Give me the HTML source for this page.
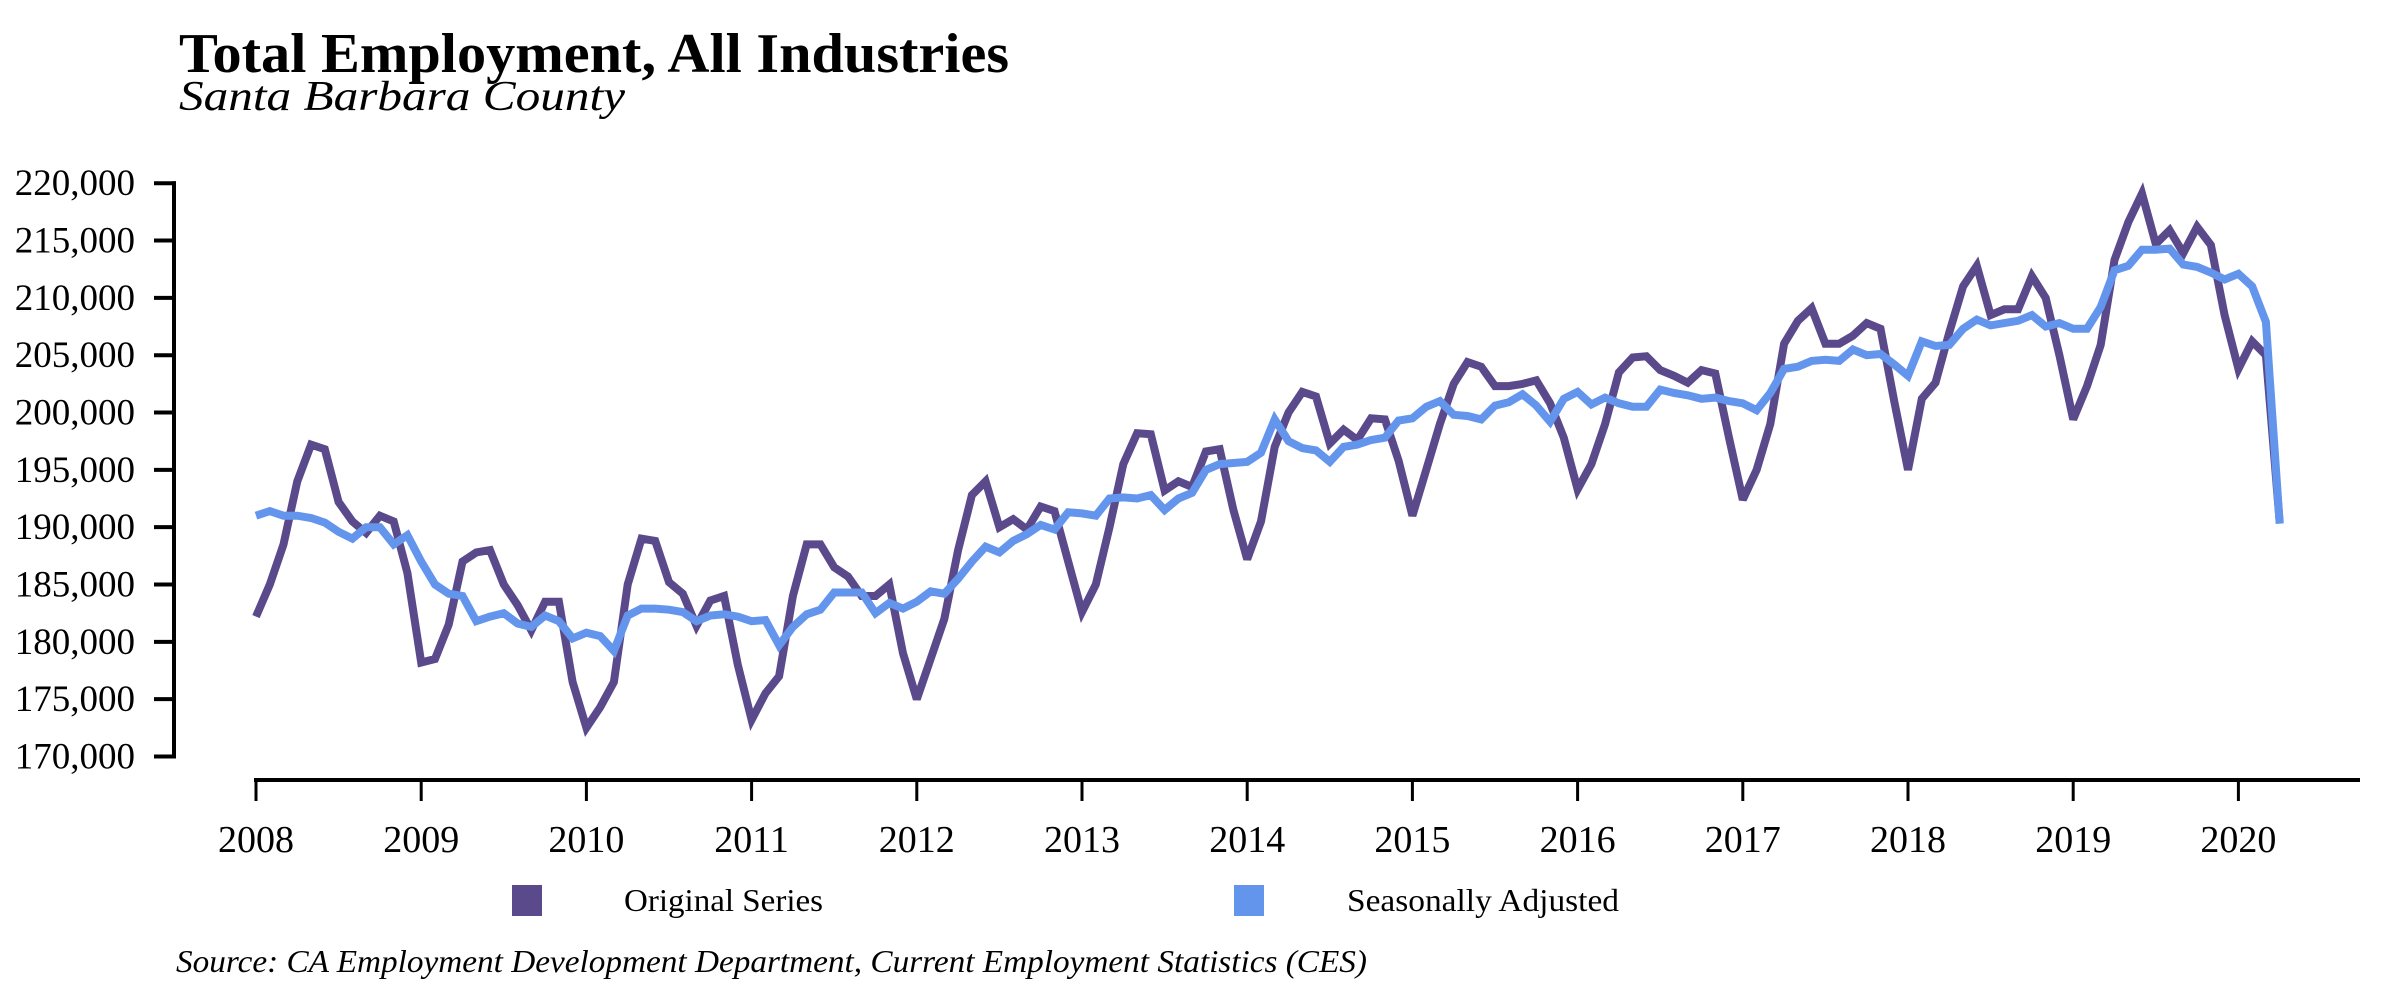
<!DOCTYPE html>
<html><head><meta charset="utf-8"><style>
html,body{margin:0;padding:0;background:#fff;}
svg{display:block;font-family:"Liberation Serif",serif;}
</style></head><body>
<svg id="chart" width="2400" height="1000" viewBox="0 0 2400 1000" xmlns="http://www.w3.org/2000/svg">
<text x="179" y="72" font-size="56" font-weight="bold" textLength="830" lengthAdjust="spacingAndGlyphs">Total Employment, All Industries</text>
<text x="179" y="110" font-size="42" font-style="italic" textLength="446" lengthAdjust="spacingAndGlyphs">Santa Barbara County</text>
<g id="axes"></g>
<g id="series"></g>
<g>
<rect x="512" y="885" width="30" height="31" fill="#5b4a8b"/>
<text x="624" y="911" font-size="32" textLength="199" lengthAdjust="spacingAndGlyphs">Original Series</text>
<rect x="1234" y="885" width="30" height="31" fill="#6495ed"/>
<text x="1347" y="911" font-size="32" textLength="272" lengthAdjust="spacingAndGlyphs">Seasonally Adjusted</text>
</g>
<text x="176" y="972" font-size="32" font-style="italic" textLength="1191" lengthAdjust="spacingAndGlyphs">Source: CA Employment Development Department, Current Employment Statistics (CES)</text>
</svg>
<script>
const yTicks = [170000,175000,180000,185000,190000,195000,200000,205000,210000,215000,220000];
const xYears = [2008,2009,2010,2011,2012,2013,2014,2015,2016,2017,2018,2019,2020];
const original = [
182.2,185,188.5,194,197.2,196.8,192.2,190.5,189.5,191,190.5,186,
178.2,178.5,181.5,187,187.8,188,185,183.2,181,183.5,183.5,176.5,
172.5,174.3,176.5,185,189,188.8,185.2,184.2,181.4,183.6,184,178,
173.2,175.5,177,184,188.5,188.5,186.5,185.7,184,184,185,179,
175,178.5,182,188,192.8,194,190,190.7,189.8,191.8,191.4,187,
182.6,185,190,195.5,198.2,198.1,193.2,194,193.5,196.6,196.8,191.5,
187.2,190.5,197,200,201.8,201.4,197.3,198.5,197.6,199.5,199.4,195.8,
191,195,199,202.5,204.4,204,202.3,202.3,202.5,202.8,200.8,197.8,
193.3,195.5,199,203.5,204.8,204.9,203.7,203.2,202.6,203.7,203.4,197.8,
192.4,195,199,206,208,209.1,206,206,206.7,207.8,207.3,201,
195,201.2,202.6,207,211,212.8,208.5,209,209,211.9,210,205,
199.4,202.3,205.9,213.3,216.6,219.1,214.7,215.9,213.9,216.2,214.6,208.5,
203.8,206.2,205,190.4];
const seasonal = [
191,191.4,191,191,190.8,190.4,189.6,189,190,190,188.5,189.3,
187,185,184.2,184,181.8,182.2,182.5,181.6,181.3,182.3,181.8,180.3,
180.8,180.5,179.2,182.3,182.9,182.9,182.8,182.6,181.8,182.3,182.4,182.2,
181.8,181.9,179.7,181.3,182.4,182.8,184.3,184.3,184.3,182.5,183.4,182.9,
183.5,184.4,184.2,185.5,187,188.3,187.8,188.8,189.4,190.2,189.8,191.3,
191.2,191,192.5,192.6,192.5,192.8,191.5,192.5,193,195,195.5,195.6,
195.7,196.5,199.4,197.5,196.9,196.7,195.7,197,197.2,197.6,197.8,199.3,
199.5,200.5,201,199.8,199.7,199.4,200.6,200.9,201.6,200.6,199.2,201.2,
201.8,200.7,201.3,200.8,200.5,200.5,202,201.7,201.5,201.2,201.3,201,
200.8,200.2,201.7,203.8,204,204.5,204.6,204.5,205.5,205,205.1,204.2,
203.2,206.2,205.8,205.9,207.3,208.1,207.6,207.8,208,208.5,207.5,207.8,
207.3,207.3,209.2,212.4,212.8,214.2,214.2,214.3,212.9,212.7,212.2,211.6,
212.1,211,207.9,190.3];

const NS="http://www.w3.org/2000/svg";
const X0=256, YEARW=165.2, YTOP=183.2, YBOT=756.5;
function xScale(i){return X0+i*YEARW/12;}
function xYear(y){return X0+(y-2008)*YEARW;}
function yScale(v){return YBOT-(v-170000)/50000*(YBOT-YTOP);}
function mk(tag,attrs,parent){const e=document.createElementNS(NS,tag);for(const k in attrs)e.setAttribute(k,attrs[k]);parent.appendChild(e);return e;}
const axes=document.getElementById('axes');
let yl=mk('line',{x1:174,y1:YTOP-2,x2:174,y2:YBOT+2,stroke:'#000','stroke-width':4},axes);


yTicks.forEach(v=>{
  const y=yScale(v);
  const t=mk('line',{x1:154,y1:y,x2:176,y2:y,stroke:'#000','stroke-width':4},axes);
  
  
  const l=mk('text',{x:135,y:y+12,'font-size':37,'text-anchor':'end'},axes);
  
  
  l.textContent=v.toLocaleString('en-US');
});
let xl=mk('line',{x1:254,y1:780,x2:2360,y2:780,stroke:'#000','stroke-width':4},axes);


xYears.forEach(yr=>{
  const x=xYear(yr);
  const t=mk('line',{x1:x,y1:780,x2:x,y2:801,stroke:'#000','stroke-width':3},axes);
  
  
  const l=mk('text',{x:x,y:852,'font-size':38,'text-anchor':'middle'},axes);
  
  
  l.textContent=String(yr);
});
const ser=document.getElementById('series');
function line(arr,color,name){
  const pts=arr.map((v,i)=>xScale(i).toFixed(1)+','+yScale(v*1000).toFixed(1)).join(' ');
  const p=mk('polyline',{points:pts,fill:'none',stroke:color,'stroke-width':8,'stroke-linejoin':'miter','stroke-miterlimit':3},ser);
  
  
}
line(original,'#5b4a8b','original-series-line');
line(seasonal,'#6495ed','seasonally-adjusted-line');
</script>
</body></html>
